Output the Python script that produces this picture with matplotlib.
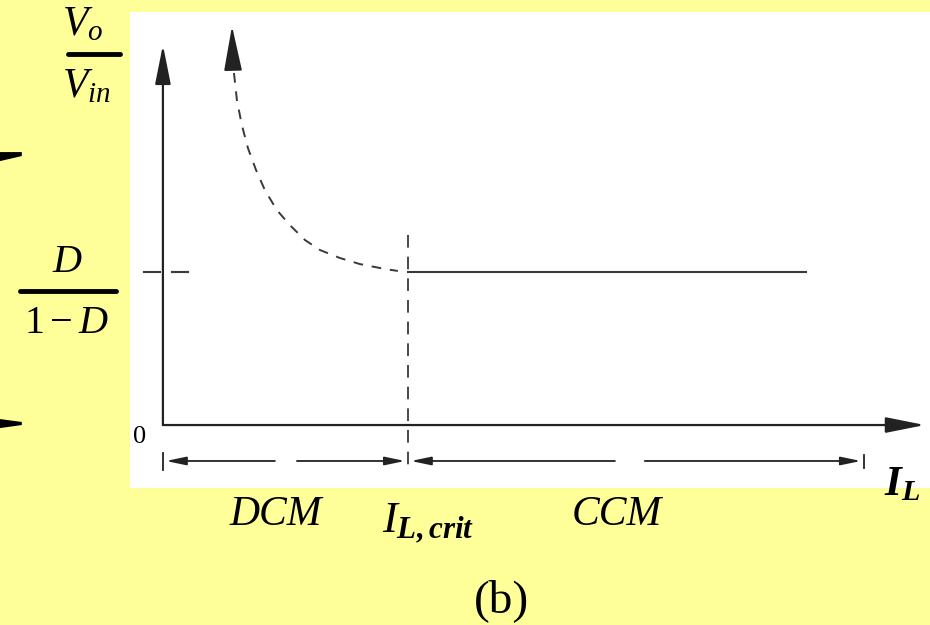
import matplotlib
matplotlib.use("Agg")
import matplotlib.pyplot as plt
from matplotlib.patches import Rectangle, Polygon

plt.rcParams["mathtext.fontset"] = "custom"
plt.rcParams["mathtext.rm"] = "Liberation Serif"
plt.rcParams["mathtext.it"] = "Liberation Serif:italic"
plt.rcParams["mathtext.bf"] = "Liberation Serif:bold:italic"

# DCM branch (dashed); x in units of I_L,crit, y in units of D/(1-D)
il_dcm = [0.290, 0.302, 0.322, 0.347, 0.380, 0.416, 0.465, 0.518, 0.580, 0.641, 0.722, 0.804, 0.906, 0.959]
gain_dcm = [2.301, 2.124, 1.961, 1.810, 1.667, 1.536, 1.405, 1.307, 1.209, 1.144, 1.092, 1.052, 1.020, 1.007]
arrow_dcm = [(0.286, 2.333), (0.282, 2.608)]

# CCM branch (solid)
il_crit = 1.0
gain_ccm = 1.0
il_ccm = [1.0, 2.624]

# axis extents and the DCM / CCM dimension line
x_axis_end = 3.110
y_axis_end = 2.484
regions = ["DCM", "CCM"]
region_start = [0.0, 1.0]
region_end = [1.0, 2.861]
region_gap = [(0.457, 0.547), (1.845, 1.967)]

YELLOW = "#ffff99"
INK = "#222222"
GREY = "#3a3a3a"

fig = plt.figure(figsize=(9.3, 6.25), dpi=100, facecolor=YELLOW)
ax = fig.add_axes([0, 0, 1, 1])
ax.set_xlim(-0.665, 3.131)
ax.set_ylim(-1.307, 2.778)
ax.axis("off")
ax.set_facecolor(YELLOW)

# white drawing area
ax.add_patch(Rectangle((-0.135, -0.412), 3.3, 3.111, facecolor="white", edgecolor="none", zorder=0))

# left-edge fragments
ax.add_patch(Polygon([(-0.665, 1.784), (-0.576, 1.784), (-0.576, 1.758), (-0.665, 1.725)],
                     facecolor="black", edgecolor="none"))
ax.add_patch(Polygon([(-0.665, 0.039), (-0.576, 0.020), (-0.576, 0.0), (-0.665, -0.020)],
                     facecolor="black", edgecolor="none"))


def arrow(tip, tail, length, width, scale, lw):
    style = f"-|>,head_length={length},head_width={width}"
    ax.annotate("", xy=tip, xytext=tail,
                arrowprops=dict(arrowstyle=style, mutation_scale=scale, color=INK,
                                lw=lw, shrinkA=0, shrinkB=0))


# axes
arrow((0, y_axis_end), (0, 0), 1.2, 0.24, 20, 1.6)
arrow((x_axis_end, 0), (0, 0), 1.2, 0.24, 20, 1.6)

# DCM curve with arrow
ax.plot(il_dcm, gain_dcm, color=GREY, lw=1.4, dashes=(5, 4.5))
arrow(arrow_dcm[1], arrow_dcm[0], 1.4, 0.28, 20, 1.4)

# CCM line
ax.plot(il_ccm, [gain_ccm, gain_ccm], color=GREY, lw=1.5)

# D/(1-D) tick on y-axis
ax.plot([-0.078, -0.012], [gain_ccm, gain_ccm], color=GREY, lw=1.5)
ax.plot([0.037, 0.102], [gain_ccm, gain_ccm], color=GREY, lw=1.5)

# I_L,crit dashed vertical
ax.plot([il_crit, il_crit], [1.242, -0.294], color=GREY, lw=1.3, dashes=(7, 5))

# dimension line
y_dim = -0.235
for s, e, (g0, g1) in zip(region_start, region_end, region_gap):
    arrow((s + 0.012, y_dim), (g0, y_dim), 1.2, 0.25, 10, 1.3)
    arrow((e - 0.012, y_dim), (g1, y_dim), 1.2, 0.25, 10, 1.3)
ax.plot([0, 0], [-0.183, -0.294], color=INK, lw=1.3)
ax.plot([region_end[-1]] * 2, [-0.196, -0.281], color=INK, lw=1.3)

# labels
ax.text(-0.410, 2.549, r"$V_o$", fontsize=30, ha="left", va="baseline")
ax.plot([-0.388, -0.176], [2.422, 2.422], color="black", lw=3.5, solid_capstyle="round")
ax.text(-0.410, 2.144, r"$V_{in}$", fontsize=30, ha="left", va="baseline")

ax.text(-0.388, 1.0, r"$D$", fontsize=29, ha="center", va="baseline")
ax.plot([-0.584, -0.192], [0.873, 0.873], color="black", lw=3.5, solid_capstyle="round")
ax.text(-0.392, 0.601, r"$1-D$", fontsize=29, ha="center", va="baseline")

ax.text(-0.094, -0.118, "0", fontsize=19, family="Liberation Serif", ha="center", va="baseline")

for name, xc in zip(regions, [0.461, 1.853]):
    ax.text(xc, -0.655, name, fontsize=30, family="Liberation Serif", style="italic",
            ha="center", va="baseline")

ax.text(0.895, -0.699, r"$I_{\mathbf{L,crit}}$", fontsize=32, ha="left", va="baseline")
ax.text(2.943, -0.458, r"$\mathbf{I}_{\mathbf{L}}$", fontsize=31, ha="left", va="baseline")

ax.text(1.380, -1.225, "(b)", fontsize=34, family="Liberation Serif", ha="center", va="baseline")

fig.savefig("out.png", dpi=100, facecolor=YELLOW)
